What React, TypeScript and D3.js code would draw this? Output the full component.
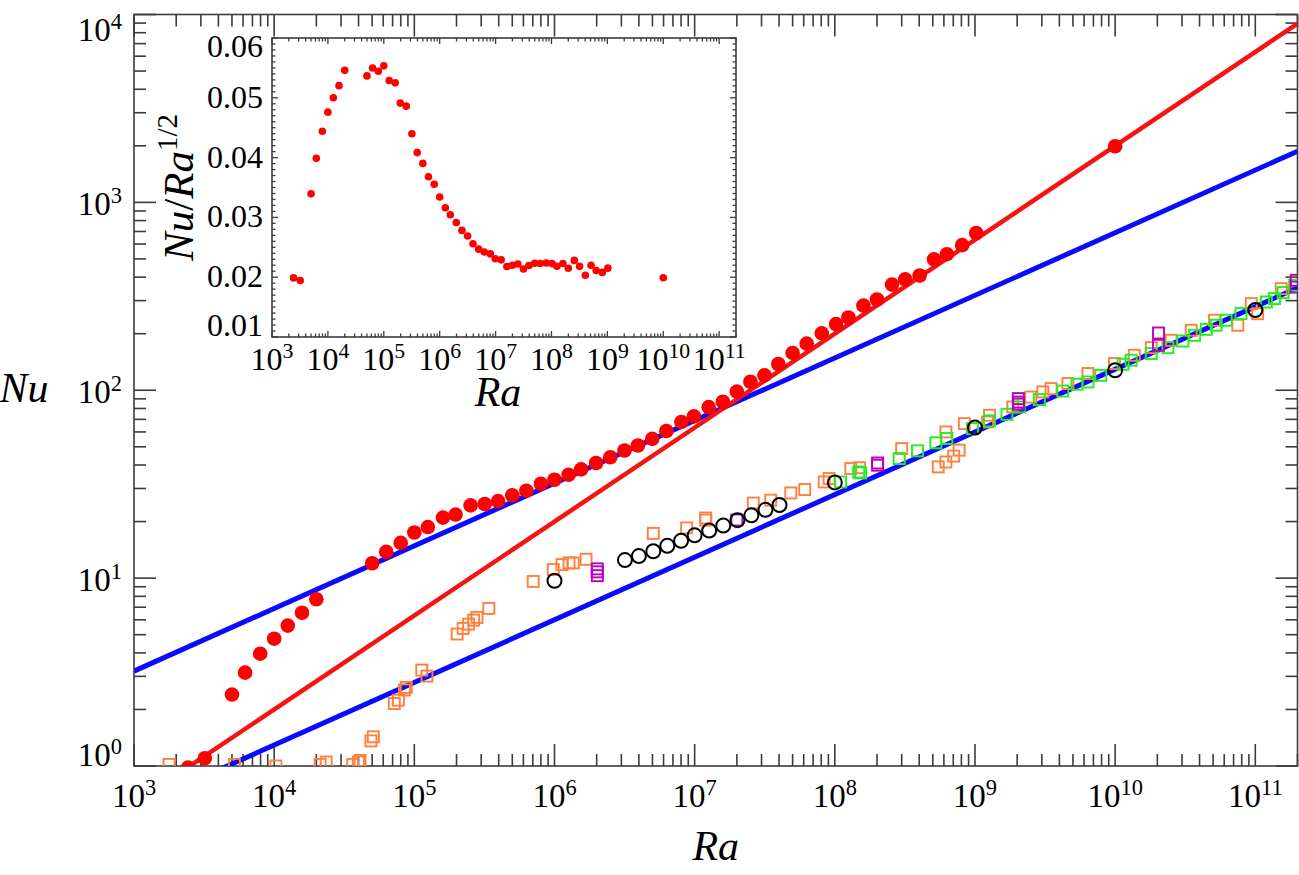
import { useEffect, useRef } from 'react';
import * as d3 from 'd3';

// Main-panel data (Ra, Nu). The inset plots the same red series as Nu/Ra^(1/2).
const raRed = [2430, 3200, 5000, 6200, 7950, 1e4, 1.25e4, 1.58e4, 2e4, 5e4, 6.3e4, 8e4, 1e5, 1.25e5, 1.6e5, 1.97e5,
  2.52e5, 3.18e5, 3.96e5, 5e5, 6.3e5, 8e5, 1e6, 1.26e6, 1.55e6, 1.98e6, 2.5e6, 3.16e6, 3.94e6, 4.98e6, 6.28e6,
  8.04e6, 9.88e6, 1.26e7, 1.59e7, 2e7, 2.5e7, 3.15e7, 3.95e7, 5e7, 6.3e7, 8.07e7, 1.02e8, 1.25e8, 1.6e8, 2e8,
  2.56e8, 3.18e8, 4.03e8, 5.1e8, 6.3e8, 8.1e8, 1.02e9, 1e10];
const nuRed = [0.98, 1.1, 2.4, 3.14, 3.96, 4.76, 5.59, 6.54, 7.72, 12.0, 13.8, 15.4, 17.5, 18.7, 21.0, 21.8,
  24.4, 24.8, 25.7, 27.6, 29.2, 31.8, 33.4, 35.5, 37.9, 41.0, 44.0, 47.8, 50.8, 55.1, 60.7,
  67.8, 72.6, 81.3, 86.9, 98.4, 111, 120, 138, 158, 177, 201, 225, 244, 282, 304,
  365, 389, 408, 497, 530, 592, 687, 1990];

const raOrange = [1780, 5200, 10300, 21300, 23500, 36300, 40000, 41000, 49000, 51000, 72000, 77000, 85000, 87700,
  1.13e5, 1.23e5, 2.02e5, 2.23e5, 2.44e5, 2.65e5, 2.8e5, 3.4e5, 7.05e5, 9.8e5, 1.13e6, 1.27e6, 1.36e6, 1.68e6,
  5.07e6, 8.77e6, 1.2e7, 1.2e7, 2.62e7, 3.49e7, 4.85e7, 6.1e7, 8.4e7, 9.1e7, 1.3e8, 1.5e8, 3e8, 5.47e8, 6.2e8,
  7.05e8, 7.7e8, 6.2e8, 8.4e8, 1.23e9, 1.27e9, 1.86e9, 2.5e9, 3.05e9, 3.49e9, 4.6e9, 6.4e9, 9.9e9, 1.37e10,
  1.81e10, 2.51e10, 3.49e10, 5.12e10, 7.5e10, 9.36e10, 1.04e11, 1.53e11];
const nuOrange = [1.02, 1.02, 1.0, 1.02, 1.05, 1.02, 1.05, 1.07, 1.36, 1.43, 2.15, 2.24, 2.54, 2.62,
  3.24, 3.01, 5.04, 5.4, 5.69, 5.98, 6.18, 6.9, 9.6, 11.1, 11.8, 12.05, 12.05, 12.6,
  17.3, 18.5, 20.35, 20.9, 25.1, 26, 28.4, 29.6, 32.5, 33.9, 38.3, 38.7, 48.9, 39.1, 41.5,
  44.6, 48, 60, 66.4, 67.8, 73.6, 81.5, 92, 98, 102, 108.6, 122.8, 138.7, 153.5,
  168.6, 184.5, 208.5, 235.7, 221.8, 289, 255.4, 347.5];

const raGreen = [1.1e8, 1.48e8, 1.53e8, 2.88e8, 3.89e8, 5.26e8, 6.3e8, 9.6e8, 1.27e9, 1.69e9, 2.07e9, 2.88e9,
  4.23e9, 5.35e9, 6.4e9, 7.9e9, 1.14e10, 1.3e10, 1.81e10, 2.38e10, 3.04e10, 3.69e10, 4.47e10, 5.26e10, 6.2e10,
  7.9e10, 1.2e11, 1.37e11, 1.58e11, 1.91e11];
const nuGreen = [32.5, 36.7, 36.3, 43.3, 47.6, 52.5, 55.4, 62.5, 68.7, 74.5, 81.5, 89.2,
  99, 107.6, 110.7, 120, 137.5, 144.5, 156.8, 168.6, 182.8, 196, 210.9, 221.8, 235.7,
  255.9, 295, 307.5, 331, 362];

const raMagenta = [2.02e6, 2.02e6, 2.02e6, 2e7, 2.02e8, 2.02e8, 2.04e9, 2.04e9, 2.04e9, 2.04e10, 2.04e10, 1.96e11, 1.96e11];
const nuMagenta = [10.3, 10.8, 11.2, 20.4, 39.9, 41.0, 84.3, 86.5, 90.3, 173.5, 201.7, 354, 384.7];

const raBlack = [1e6, 3.18e6, 4e6, 5.07e6, 6.38e6, 8e6, 1e7, 1.27e7, 1.6e7, 2.02e7, 2.54e7, 3.2e7, 4.03e7,
  1e8, 1e9, 1e10, 1e11];
const nuBlack = [9.68, 12.47, 13.1, 13.9, 14.85, 15.8, 16.9, 17.9, 19.05, 20.35, 21.6, 23.1, 24.5,
  32.3, 63.3, 127.8, 267.4];

// Power-law reference lines Nu = prefactor * Ra^exponent
const linePrefactor = [0.32, 0.02, 0.06];
const lineExponent = [1 / 3, 1 / 2, 1 / 3];
const lineColor = ['#0a0aff', '#f51414', '#0a0aff'];

const mainXDomain = [1e3, 2e11];
const mainYDomain = [1, 1e4];
const insetYDomain = [0.01, 0.06];
const insetYTicks = [0.01, 0.02, 0.03, 0.04, 0.05, 0.06];

export default function App() {
  const svgRef = useRef<SVGSVGElement>(null);

  useEffect(() => {
    if (!svgRef.current) return;
    const svg = d3.select(svgRef.current);
    svg.selectAll('*').remove();

    const font = "'Liberation Serif', 'Times New Roman', Times, serif";
    const axisColor = '#3c3c3c';

    const main = { left: 134, right: 1297.5, top: 14.5, bottom: 766 };
    const x = d3.scaleLog().domain(mainXDomain).range([main.left, main.right]);
    const y = d3.scaleLog().domain(mainYDomain).range([main.bottom, main.top]);

    // log ticks: decades + 2..9 minors
    const logTicks = (lo: number, hi: number) => {
      const out: { v: number; major: boolean; exp: number }[] = [];
      for (let e = Math.floor(Math.log10(lo)); e <= Math.ceil(Math.log10(hi)); e++) {
        for (let m = 1; m <= 9; m++) {
          const v = m * Math.pow(10, e);
          if (v >= lo * 0.999 && v <= hi * 1.001) out.push({ v, major: m === 1, exp: e });
        }
      }
      return out;
    };

    const powLabel = (g: any, px: number, py: number, exp: number, size: number, anchor: string) => {
      const t = g.append('text')
        .attr('x', px)
        .attr('y', py)
        .attr('text-anchor', anchor)
        .style('font-family', font)
        .attr('font-size', size)
        .attr('fill', '#000');
      t.append('tspan').text('10');
      t.append('tspan')
        .attr('dy', -size * 0.36)
        .attr('font-size', size * 0.68)
        .text(String(exp));
    };

    // ---------- main panel ----------
    svg.append('defs').append('clipPath').attr('id', 'mainClip')
      .append('rect')
      .attr('x', main.left).attr('y', main.top)
      .attr('width', main.right - main.left).attr('height', main.bottom - main.top);

    const frame = svg.append('g');
    frame.append('rect')
      .attr('x', main.left).attr('y', main.top)
      .attr('width', main.right - main.left).attr('height', main.bottom - main.top)
      .attr('fill', 'none').attr('stroke', axisColor).attr('stroke-width', 1.6);

    const xt = logTicks(mainXDomain[0], mainXDomain[1]);
    xt.forEach(t => {
      const len = t.major ? 22 : 12;
      const px = x(t.v);
      frame.append('line').attr('x1', px).attr('x2', px).attr('y1', main.bottom).attr('y2', main.bottom - len)
        .attr('stroke', axisColor).attr('stroke-width', 1.6);
      frame.append('line').attr('x1', px).attr('x2', px).attr('y1', main.top).attr('y2', main.top + len)
        .attr('stroke', axisColor).attr('stroke-width', 1.6);
      if (t.major) powLabel(frame, px, 807, t.exp, 33, 'middle');
    });

    const yt = logTicks(mainYDomain[0], mainYDomain[1]);
    yt.forEach(t => {
      const len = t.major ? 22 : 12;
      const py = y(t.v);
      frame.append('line').attr('x1', main.left).attr('x2', main.left + len).attr('y1', py).attr('y2', py)
        .attr('stroke', axisColor).attr('stroke-width', 1.6);
      frame.append('line').attr('x1', main.right).attr('x2', main.right - len).attr('y1', py).attr('y2', py)
        .attr('stroke', axisColor).attr('stroke-width', 1.6);
      // labels at the ends are kept inside the axis span
      const base = Math.min(Math.max(py + 13, main.top + 26), main.bottom);
      if (t.major) powLabel(frame, 122, base, t.exp, 33, 'end');
    });

    svg.append('text')
      .attr('x', (main.left + main.right) / 2).attr('y', 860)
      .attr('text-anchor', 'middle').style('font-family', font)
      .attr('font-style', 'italic').attr('font-size', 42)
      .text('Ra');

    svg.append('text')
      .attr('x', 24).attr('y', 402)
      .attr('text-anchor', 'middle').style('font-family', font)
      .attr('font-style', 'italic').attr('font-size', 42)
      .text('Nu');

    const plot = svg.append('g').attr('clip-path', 'url(#mainClip)');

    // reference lines
    linePrefactor.forEach((c, i) => {
      const pts = mainXDomain.map(ra => [ra, c * Math.pow(ra, lineExponent[i])]);
      plot.append('path')
        .datum(pts)
        .attr('fill', 'none')
        .attr('stroke', lineColor[i])
        .attr('stroke-width', i === 1 ? 4.5 : 5)
        .attr('d', d3.line<number[]>().x(d => x(d[0])).y(d => y(d[1])));
    });

    const squares = (ra: number[], nu: number[], color: string) => {
      plot.append('g').selectAll('rect')
        .data(ra.map((r, i) => [r, nu[i]]))
        .join('rect')
        .attr('x', d => x(d[0]) - 5.5)
        .attr('y', d => y(d[1]) - 5.5)
        .attr('width', 11).attr('height', 11)
        .attr('fill', 'none')
        .attr('stroke', color)
        .attr('stroke-width', 1.9);
    };
    squares(raOrange, nuOrange, '#ff7f3c');
    squares(raGreen, nuGreen, '#22ee22');
    squares(raMagenta, nuMagenta, '#bb00bb');

    plot.append('g').selectAll('circle')
      .data(raBlack.map((r, i) => [r, nuBlack[i]]))
      .join('circle')
      .attr('cx', d => x(d[0])).attr('cy', d => y(d[1])).attr('r', 7)
      .attr('fill', 'none').attr('stroke', '#000').attr('stroke-width', 2);

    plot.append('g').selectAll('circle')
      .data(raRed.map((r, i) => [r, nuRed[i]]))
      .join('circle')
      .attr('cx', d => x(d[0])).attr('cy', d => y(d[1])).attr('r', 7.3)
      .attr('fill', '#ff0000');

    // ---------- inset ----------
    const ins = { left: 272, right: 736, top: 38, bottom: 337 };
    const xi = d3.scaleLog().domain(mainXDomain).range([ins.left, ins.right]);
    const yi = d3.scaleLinear().domain(insetYDomain).range([ins.bottom, ins.top]);
    const inset = svg.append('g');

    inset.append('rect')
      .attr('x', ins.left).attr('y', ins.top)
      .attr('width', ins.right - ins.left).attr('height', ins.bottom - ins.top)
      .attr('fill', '#fff').attr('stroke', axisColor).attr('stroke-width', 1.6);

    xt.forEach(t => {
      const len = t.major ? 6 : 3.5;
      const px = xi(t.v);
      inset.append('line').attr('x1', px).attr('x2', px).attr('y1', ins.bottom).attr('y2', ins.bottom - len)
        .attr('stroke', axisColor).attr('stroke-width', 1.3);
      inset.append('line').attr('x1', px).attr('x2', px).attr('y1', ins.top).attr('y2', ins.top + len)
        .attr('stroke', axisColor).attr('stroke-width', 1.3);
      if (t.major) powLabel(inset, px, 370, t.exp, 32, 'middle');
    });

    d3.range(10, 61).forEach(k => {
      const v = k / 1000;
      const major = k % 10 === 0;
      const len = major ? 6 : 3.5;
      const py = yi(v);
      inset.append('line').attr('x1', ins.left).attr('x2', ins.left + len).attr('y1', py).attr('y2', py)
        .attr('stroke', axisColor).attr('stroke-width', 1.3);
      inset.append('line').attr('x1', ins.right).attr('x2', ins.right - len).attr('y1', py).attr('y2', py)
        .attr('stroke', axisColor).attr('stroke-width', 1.3);
    });

    insetYTicks.forEach(v => {
      const py = Math.min(Math.max(yi(v), ins.top + 9), ins.bottom - 11);
      inset.append('text')
        .attr('x', 263).attr('y', py + 10)
        .attr('text-anchor', 'end').style('font-family', font).attr('font-size', 32)
        .text(d3.format('.2f')(v));
    });

    inset.append('g').selectAll('circle')
      .data(raRed.map((r, i) => [r, nuRed[i] / Math.sqrt(r)]))
      .join('circle')
      .attr('cx', d => xi(d[0])).attr('cy', d => yi(d[1])).attr('r', 3.8)
      .attr('fill', '#ff0000');

    inset.append('text')
      .attr('x', 498).attr('y', 406)
      .attr('text-anchor', 'middle').style('font-family', font)
      .attr('font-style', 'italic').attr('font-size', 42)
      .text('Ra');

    const yl = inset.append('text')
      .attr('transform', `translate(193, ${(ins.top + ins.bottom) / 2}) rotate(-90)`)
      .attr('text-anchor', 'middle').style('font-family', font).attr('font-size', 43);
    yl.append('tspan').attr('font-style', 'italic').text('Nu');
    yl.append('tspan').text('/');
    yl.append('tspan').attr('font-style', 'italic').text('Ra');
    yl.append('tspan').attr('dy', -16).attr('font-size', 29).text('1/2');
  }, []);

  return (
    <div style={{ width: 1299, height: 875 }}>
      <svg ref={svgRef} width={1299} height={875}
        style={{ position: 'absolute', left: 0, top: 0, background: '#fff' }} />
    </div>
  );
}
